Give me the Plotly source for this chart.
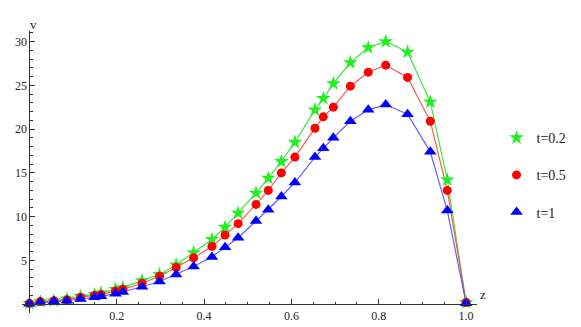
import plotly.graph_objects as go

# z positions of the computed points
z = [0, 0.025, 0.056, 0.086, 0.117, 0.149, 0.164, 0.197, 0.214, 0.258, 0.298,
     0.336, 0.376, 0.418, 0.448, 0.478, 0.519, 0.547, 0.577, 0.608, 0.654,
     0.673, 0.696, 0.735, 0.776, 0.816, 0.866, 0.918, 0.957, 1.0]

v_t02 = [0.1, 0.3, 0.4, 0.6, 0.9, 1.1, 1.3, 1.7, 1.9, 2.7, 3.4, 4.5, 5.9,
         7.4, 8.8, 10.4, 12.7, 14.4, 16.3, 18.5, 22.2, 23.5, 25.2, 27.6,
         29.3, 30.0, 28.8, 23.1, 14.2, 0.2]
v_t05 = [0.1, 0.3, 0.4, 0.5, 0.8, 1.0, 1.1, 1.5, 1.7, 2.4, 3.2, 4.2, 5.3,
         6.6, 7.9, 9.2, 11.4, 13.0, 15.0, 16.8, 20.1, 21.4, 22.5, 24.9,
         26.5, 27.3, 25.9, 20.9, 13.0, 0.2]
v_t1 = [0.05, 0.2, 0.3, 0.4, 0.6, 0.8, 0.9, 1.2, 1.4, 2.0, 2.6, 3.4, 4.3,
        5.4, 6.5, 7.6, 9.5, 10.8, 12.3, 13.9, 16.8, 17.8, 19.0, 20.9,
        22.2, 22.8, 21.7, 17.4, 10.7, 0.1]

series_names = ['t=0.2', 't=0.5', 't=1']
series_values = [v_t02, v_t05, v_t1]

x_ticks = [0.2, 0.4, 0.6, 0.8, 1.0]
x_ticktext = ['0.2', '0.4', '0.6', '0.8', '1.0']
y_ticks = [5, 10, 15, 20, 25, 30]

line_colors = ['rgba(40,230,40,0.9)', 'rgba(255,70,70,0.9)', 'rgba(80,80,255,0.9)']
marker_colors = ['#22EE22', '#FF0000', '#0000FF']
symbols = ['star', 'circle', 'triangle-up']
msizes = [11, 9, 11]

SERIF = '"Liberation Serif", "Times New Roman", serif'

fig = go.Figure()

# lines under the markers
for vals, lc in zip(series_values, line_colors):
    fig.add_trace(go.Scatter(
        x=z, y=vals, mode='lines',
        line=dict(color=lc, width=1.2),
        showlegend=False, hoverinfo='skip',
    ))

for name, vals, mc, sym, ms in zip(series_names, series_values, marker_colors, symbols, msizes):
    fig.add_trace(go.Scatter(
        x=z, y=vals, mode='markers', name=name,
        marker=dict(color=mc, symbol=sym, size=ms, line=dict(width=0)),
        legendgroup=name,
    ))

x_range = [-0.017, 1.025]
y_range = [-1.0, 31.2]

fig.update_xaxes(
    range=x_range, anchor='free', automargin=False,
    position=(0 - y_range[0]) / (y_range[1] - y_range[0]),
    showline=True, linecolor='#333333', linewidth=1,
    showgrid=False, zeroline=False,
    tickmode='array', tickvals=x_ticks, ticktext=x_ticktext,
    ticks='inside', ticklen=5, tickcolor='#333333', tickwidth=1,
    minor=dict(dtick=0.05, tick0=0, ticks='inside', ticklen=2.5, tickcolor='#333333'),
    tickfont=dict(family=SERIF, size=12, color='#222222'),
)
fig.update_yaxes(
    range=y_range, anchor='free', automargin=False,
    position=(0 - x_range[0]) / (x_range[1] - x_range[0]),
    showline=True, linecolor='#333333', linewidth=1,
    showgrid=False, zeroline=False,
    tickmode='array', tickvals=y_ticks,
    ticks='inside', ticklen=5, tickcolor='#333333', tickwidth=1,
    minor=dict(dtick=1, tick0=0, ticks='inside', ticklen=2.5, tickcolor='#333333'),
    tickfont=dict(family=SERIF, size=12, color='#222222'),
)

fig.add_annotation(x=0.013, y=1.057, xref='paper', yref='paper', text='v',
                   showarrow=False, font=dict(family=SERIF, size=13, color='#222222'))
fig.add_annotation(x=1.024, y=0.032, xref='paper', yref='paper', text='z',
                   showarrow=False, font=dict(family=SERIF, size=13, color='#222222'))

fig.update_layout(
    width=581, height=327,
    margin=dict(l=22, r=104, t=31, b=14, autoexpand=False),
    plot_bgcolor='white', paper_bgcolor='white',
    font=dict(family=SERIF),
    legend=dict(
        x=1.043, y=0.677, xanchor='left', yanchor='top',
        font=dict(family=SERIF, size=14, color='#222222'),
        tracegroupgap=16, bgcolor='rgba(0,0,0,0)',
    ),
)

# page body has a default 8px margin; drop it so the figure sits at the corner
fig.write_html('out.html', config={'displayModeBar': False},
               post_script="document.body.style.margin='0';")
